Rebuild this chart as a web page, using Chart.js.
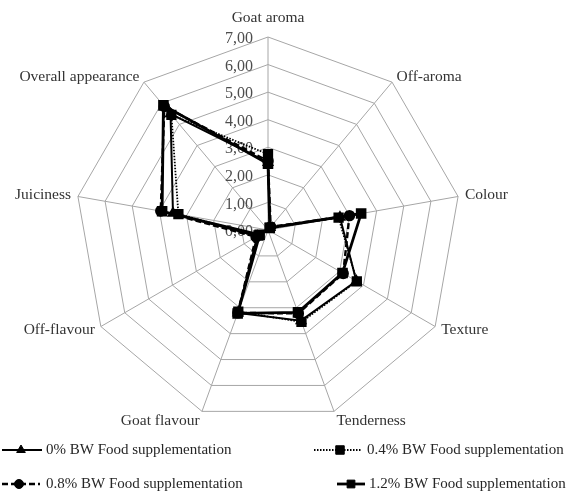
<!DOCTYPE html>
<html>
<head>
<meta charset="utf-8">
<script src="https://cdn.jsdelivr.net/npm/chart.js@4.4.1/dist/chart.umd.min.js"></script>
<style>
  html, body { margin: 0; padding: 0; background: #ffffff; }
  #box { width: 571px; height: 491px; }
</style>
</head>
<body>
<div id="box"><canvas id="grafico_radar" width="571" height="491"></canvas></div>
<script>
// atributos sensoriais
var atributos = ['Goat aroma', 'Off-aroma', 'Colour', 'Texture', 'Tenderness', 'Goat flavour', 'Off-flavour', 'Juiciness', 'Overall appearance'];

// valores
var valores0 = [2.45, 0.12, 2.65, 3.70, 3.50, 3.20, 0.45, 3.50, 5.50];
var valores04 = [2.75, 0.10, 2.60, 3.72, 3.55, 3.15, 0.40, 3.30, 5.45];
var valores08 = [2.50, 0.15, 3.00, 3.15, 3.22, 3.20, 0.50, 3.95, 5.85];
var valores12 = [2.40, 0.10, 3.43, 3.12, 3.18, 3.22, 0.35, 3.90, 5.90];

var nomesSeries = ['0% BW Food supplementation', '0.4% BW Food supplementation', '0.8% BW Food supplementation', '1.2% BW Food supplementation'];
var ticksEixo = [0, 1, 2, 3, 4, 5, 6, 7];

var fonte = "'Liberation Serif', 'Times New Roman', serif";

// rotulos dos eixos e da escala, no estilo do Excel
var pluginRotulos = {
    id: 'rotulos',
    beforeDatasetsDraw: function(chart) {
        var ctx = chart.ctx;
        var r = chart.scales.r;
        ctx.save();
        ctx.font = '16px ' + fonte;
        ctx.fillStyle = '#4d4d4d';
        ctx.textAlign = 'right';
        ctx.textBaseline = 'middle';
        for (var i = 0; i < ticksEixo.length; i++) {
            var d = r.getDistanceFromCenterForValue(ticksEixo[i]);
            ctx.fillText(ticksEixo[i].toFixed(2).replace('.', ','), r.xCenter - 15, r.yCenter - d + 2);
        }
        ctx.restore();
    },
    afterDraw: function(chart) {
        var ctx = chart.ctx;
        var r = chart.scales.r;
        ctx.save();
        ctx.font = '15.5px ' + fonte;
        ctx.fillStyle = '#333333';
        ctx.textBaseline = 'middle';
        for (var i = 0; i < atributos.length; i++) {
            var p;
            if (i == 0) {
                p = r.getPointPosition(i, r.drawingArea + 19);
                ctx.textAlign = 'center';
            } else {
                p = r.getPointPosition(i, r.drawingArea + 7);
                ctx.textAlign = p.x > r.xCenter ? 'left' : 'right';
            }
            var extra = (i == 4 || i == 5) ? 3 : 0;
            ctx.fillText(atributos[i], p.x, p.y + extra);
        }

        // legenda em duas colunas
        ctx.font = '15px ' + fonte;
        var itens = [
            { x1: 2, x2: 42, xm: 21, xt: 46, y: 450, ds: 0 },
            { x1: 314, x2: 362, xm: 340, xt: 367, y: 450, ds: 1 },
            { x1: 2, x2: 40, xm: 19, xt: 46, y: 484, ds: 2 },
            { x1: 337, x2: 365, xm: 351, xt: 369, y: 484, ds: 3 }
        ];
        for (var k = 0; k < itens.length; k++) {
            var it = itens[k];
            var ds = chart.data.datasets[it.ds];
            ctx.beginPath();
            ctx.strokeStyle = '#000000';
            ctx.lineWidth = ds.borderWidth;
            ctx.setLineDash(ds.borderDash || []);
            ctx.moveTo(it.x1, it.y);
            ctx.lineTo(it.x2, it.y);
            ctx.stroke();
            ctx.setLineDash([]);
            ctx.fillStyle = '#000000';
            ctx.strokeStyle = '#000000';
            ctx.lineWidth = 1;
            Chart.helpers.drawPoint(ctx, { pointStyle: ds.pointStyle, radius: ds.pointRadius, rotation: 0, borderWidth: 1 }, it.xm, it.y);
            ctx.fillStyle = '#262626';
            ctx.textAlign = 'left';
            ctx.fillText(nomesSeries[it.ds], it.xt, it.y);
        }
        ctx.restore();
    }
};

const grafico = document.getElementById('grafico_radar').getContext('2d');

new Chart(grafico, {
    type: 'radar',
    data: {
        labels: atributos,
        datasets: [{
            label: nomesSeries[0],
            data: valores0,
            borderColor: '#000000',
            backgroundColor: '#000000',
            borderWidth: 2,
            pointStyle: 'triangle',
            pointRadius: 5,
            fill: false
        }, {
            label: nomesSeries[1],
            data: valores04,
            borderColor: '#000000',
            backgroundColor: '#000000',
            borderWidth: 1.8,
            borderDash: [1.5, 1.5],
            pointStyle: 'rect',
            pointRadius: 6,
            fill: false
        }, {
            label: nomesSeries[2],
            data: valores08,
            borderColor: '#000000',
            backgroundColor: '#000000',
            borderWidth: 2.4,
            borderDash: [6, 3],
            pointStyle: 'circle',
            pointRadius: 4.5,
            fill: false
        }, {
            label: nomesSeries[3],
            data: valores12,
            borderColor: '#000000',
            backgroundColor: '#000000',
            borderWidth: 2.8,
            pointStyle: 'rect',
            pointRadius: 5.5,
            fill: false
        }]
    },
    options: {
        responsive: false,
        animation: false,
        layout: {
            padding: { left: 75, right: 110, top: 37, bottom: 68 }
        },
        elements: {
            line: { tension: 0 }
        },
        plugins: {
            legend: { display: false },
            tooltip: { enabled: false }
        },
        scales: {
            r: {
                min: 0,
                max: 7,
                ticks: { stepSize: 1, display: false },
                grid: { color: '#a6a6a6', lineWidth: 1 },
                angleLines: { color: '#a6a6a6', lineWidth: 1 },
                pointLabels: { display: false }
            }
        }
    },
    plugins: [pluginRotulos]
});
</script>
</body>
</html>
